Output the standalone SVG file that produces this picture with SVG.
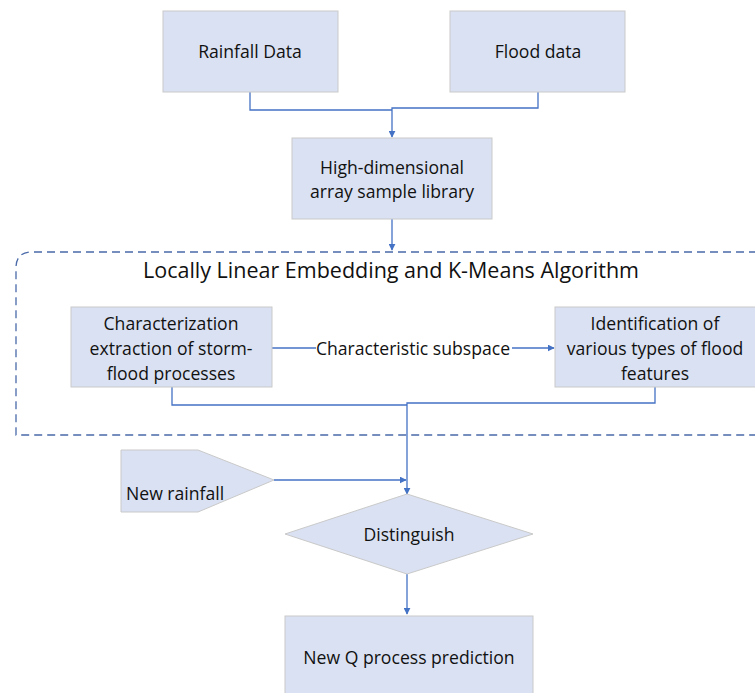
<svg xmlns="http://www.w3.org/2000/svg" width="755" height="693" viewBox="0 0 755 693">
<defs>
<style>
.box{fill:#dae1f2;stroke:#c9c9c9;stroke-width:1}
.t{font-family:"Open Sans","Liberation Sans",sans-serif;font-size:17.6px;fill:#111;text-anchor:middle}
.c{fill:none;stroke:#4472c4;stroke-width:1.3}
</style>
<marker id="ah" viewBox="0 0 10 10" refX="9" refY="5" markerWidth="7" markerHeight="7" orient="auto" markerUnits="userSpaceOnUse">
<path d="M0,0 L10,5 L0,10 z" fill="#4472c4"/>
</marker>
</defs>
<rect width="755" height="693" fill="#fff"/>
<g id="container">
<path d="M770,252 H32 Q16,252 16,268 V435 H770" fill="none" stroke="#4a6aa8" stroke-width="1.3" stroke-dasharray="8,5"/>
<text class="t" x="391" y="278" style="font-size:21.5px">Locally Linear Embedding and K-Means Algorithm</text>
</g>
<g id="connectors">
<path class="c" d="M250,92 V110 H392"/>
<path class="c" d="M538,92 V108 H392 V137" marker-end="url(#ah)"/>
<path class="c" d="M392,219 V250" marker-end="url(#ah)"/>
<path class="c" d="M272,348 H554" marker-end="url(#ah)"/>
<path class="c" d="M172,387 V405 H407"/>
<path class="c" d="M655,387 V403 H407 V494" marker-end="url(#ah)"/>
<path class="c" d="M274,480 H406" marker-end="url(#ah)"/>
<path class="c" d="M407,574 V614" marker-end="url(#ah)"/>
</g>
<g id="rainfall">
<rect class="box" x="163" y="11" width="175" height="81"/>
<text class="t" x="250" y="58">Rainfall Data</text>
</g>
<g id="flood">
<rect class="box" x="450" y="11" width="175" height="81"/>
<text class="t" x="538" y="58">Flood data</text>
</g>
<g id="library">
<rect class="box" x="292" y="138" width="200" height="81"/>
<text class="t" x="392" y="174">High-dimensional</text>
<text class="t" x="392" y="198">array sample library</text>
</g>
<g id="characterization">
<rect class="box" x="71" y="307" width="201" height="80"/>
<text class="t" x="171" y="330">Characterization</text>
<text class="t" x="171" y="355">extraction of storm-</text>
<text class="t" x="171" y="380">flood processes</text>
</g>
<rect x="316" y="338" width="196" height="20" fill="#fff"/>
<text class="t" x="413" y="355">Characteristic subspace</text>
<g id="identification">
<rect class="box" x="555" y="307" width="210" height="80"/>
<text class="t" x="655" y="330">Identification of</text>
<text class="t" x="655" y="355">various types of flood</text>
<text class="t" x="655" y="380">features</text>
</g>
<g id="newrainfall">
<path class="box" d="M121,450 H198 L274,480 L198,512 H121 Z"/>
<text class="t" x="126" y="500" style="text-anchor:start">New rainfall</text>
</g>
<g id="distinguish">
<path class="box" d="M407,494 L533,534 L407,574 L285,534 Z"/>
<text class="t" x="409" y="541">Distinguish</text>
</g>
<g id="prediction">
<rect class="box" x="285" y="616" width="248" height="90"/>
<text class="t" x="409" y="664">New Q process prediction</text>
</g>
</svg>
